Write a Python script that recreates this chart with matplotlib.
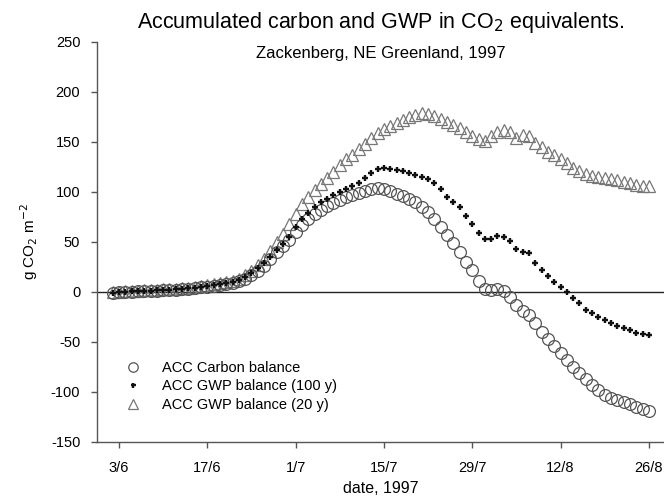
import numpy as np
import pandas as pd
import matplotlib
matplotlib.use('Agg')
import matplotlib.pyplot as plt

plt.rcParams['font.family'] = ['Liberation Sans', 'DejaVu Sans']
plt.rcParams['axes.unicode_minus'] = False

# daily values, 2/6/1997 .. 26/8/1997
dates = pd.date_range('1997-06-02', '1997-08-26', freq='D')

acc_carbon = [
    -1, -0.5, 0, 0.3, 0.5, 0.8, 1.0, 1.2, 1.5, 1.8,
    2.2, 2.6, 3.2, 3.8, 4.5, 5.2, 6.0, 6.8, 7.6, 8.8,
    10.5, 13, 17, 21, 26, 33, 40, 46, 52, 60,
    67, 73, 78, 82, 86, 89, 92, 95, 97, 99,
    101, 103, 104, 103, 101, 98, 96, 93, 90, 85,
    80, 73, 65, 57, 49, 40, 30, 22, 11, 3,
    2, 3, 1, -5, -13, -19, -23, -31, -40, -47,
    -54, -61, -68, -75, -81, -87, -93, -98, -103, -106,
    -108, -110, -112, -115, -117, -119,
]

acc_gwp100 = [
    -0.8, -0.3, 0.2, 0.5, 0.8, 1.1, 1.3, 1.6, 1.9, 2.2,
    2.6, 3.1, 3.7, 4.3, 5.0, 5.8, 6.6, 7.5, 8.4, 9.7,
    11.5, 14.5, 19, 24, 29, 35, 42, 48, 55, 65,
    73, 79, 85, 90, 93, 97, 100, 103, 106, 109,
    114, 119, 123, 124, 123, 122, 121, 119, 117, 115,
    113, 109, 103, 95, 90, 85, 76, 68, 59, 53,
    53, 56, 55, 51, 43, 40, 39, 29, 22, 16,
    10, 5, 0, -6, -11, -18, -21, -25, -28, -31,
    -34, -36, -38, -41, -42, -43,
]

acc_gwp20 = [
    -0.5, 0, 0.5, 0.8, 1.1, 1.4, 1.7, 2.0, 2.4, 2.8,
    3.2, 3.7, 4.3, 5.0, 5.8, 6.6, 7.5, 8.4, 9.4, 11,
    13, 16.5, 21, 27, 33, 41, 50, 58, 68, 78,
    88, 95, 102, 108, 114, 120, 127, 133, 137, 143,
    148, 154, 159, 163, 166, 169, 172, 175, 177, 179,
    178, 176, 173, 170, 167, 164, 160, 156, 153, 151,
    156, 160, 162, 160, 154, 157, 156, 149, 145, 140,
    137, 133, 129, 124, 121, 118, 116, 115, 114, 113,
    112, 110, 109, 107, 106, 106,
]

tick_dates = ['1997-06-03', '1997-06-17', '1997-07-01', '1997-07-15',
              '1997-07-29', '1997-08-12', '1997-08-26']
tick_labels = ['3/6', '17/6', '1/7', '15/7', '29/7', '12/8', '26/8']
y_ticks = [-150, -100, -50, 0, 50, 100, 150, 200, 250]

fig = plt.figure(figsize=(6.64, 4.97), dpi=100)
ax = fig.add_axes([0.146, 0.111, 0.854, 0.805])

ax.axhline(0, color='#222222', lw=1.0, zorder=1)

ax.plot(dates, acc_carbon, 'o', ms=8.5, mfc='none', mec='#555555', mew=0.9,
        label='ACC Carbon balance', zorder=3)
ax.plot(dates, acc_gwp100, '+', ms=4.5, mec='#111111', mew=1.7,
        label='ACC GWP balance (100 y)', zorder=4)
ax.plot(dates, acc_gwp20, '^', ms=9, mfc='none', mec='#777777', mew=0.9,
        label='ACC GWP balance (20 y)', zorder=2)

ax.set_xlim(pd.Timestamp('1997-06-03') - pd.Timedelta(days=3.5),
            pd.Timestamp('1997-08-26') + pd.Timedelta(days=2.4))
ax.set_ylim(-150, 250)
ax.set_xticks(pd.to_datetime(tick_dates))
ax.set_xticklabels(tick_labels)
ax.set_yticks(y_ticks)

for s in ['top', 'right']:
    ax.spines[s].set_visible(False)
for s in ['left', 'bottom']:
    ax.spines[s].set_color('#555555')
    ax.spines[s].set_linewidth(1.0)
ax.tick_params(direction='out', length=4, width=1, color='#555555',
               labelsize=10.5, pad=8)
ax.tick_params(axis='x', pad=10)

ax.set_xlabel('date, 1997', fontsize=11.5, labelpad=4)
ax.set_ylabel('g CO$_2$ m$^{-2}$', fontsize=11, labelpad=8)

fig.text(0.573, 0.955, 'Accumulated carbon and GWP in CO$_2$ equivalents.',
         ha='center', va='center', fontsize=15.5)
fig.text(0.573, 0.893, 'Zackenberg, NE Greenland, 1997',
         ha='center', va='center', fontsize=12)

leg = ax.legend(loc='lower left', bbox_to_anchor=(0.02, 0.05), frameon=False,
                fontsize=10.5, handletextpad=1.0, labelspacing=0.3,
                borderpad=0.2, markerscale=0.8)

fig.savefig('out.png', dpi=100)
